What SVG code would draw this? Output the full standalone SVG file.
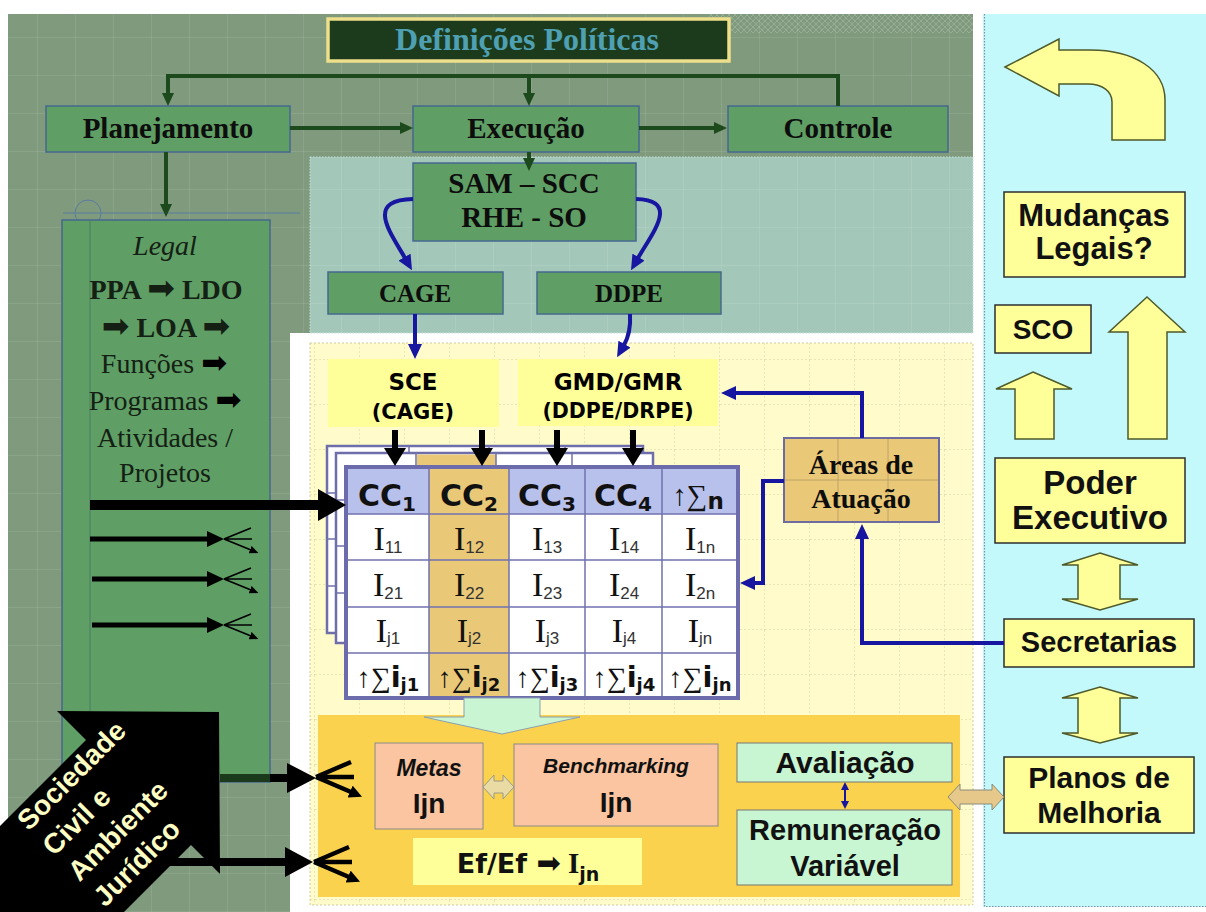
<svg xmlns="http://www.w3.org/2000/svg" width="1206" height="912" viewBox="0 0 1206 912">
<defs>
<style>
.serif{font-family:"Liberation Serif","Times New Roman",serif}
.sans{font-family:"Liberation Sans",Arial,sans-serif}
.dv{font-family:"DejaVu Sans",Verdana,sans-serif}
.arw{font-family:"DejaVu Sans",sans-serif;font-weight:normal}
.gbox{fill:#5f9e64;stroke:#46688f;stroke-width:1.5}
.ybox{fill:#ffff99;stroke:#2e2e2e;stroke-width:1.5}
.yarrow{fill:#ffff99;stroke:#4e5a2a;stroke-width:1.5}
.gl{fill:none;stroke:#1c4a1c;stroke-width:4}
.bl{fill:none;stroke:#1616a0;stroke-width:4}
.kl{fill:none;stroke:#000;stroke-width:6}
.ks{fill:none;stroke:#000;stroke-width:1.6}
.kb{fill:none;stroke:#000;stroke-width:4.5}
.cell{fill:none;stroke:#7272ae;stroke-width:1.5}
.gtxt{font-family:"Liberation Serif","Times New Roman",serif;font-weight:bold;fill:#0d0d0d;text-anchor:middle}
.rtxt{font-family:"Liberation Sans",Arial,sans-serif;font-weight:bold;fill:#111;text-anchor:middle}
.lg{font-family:"Liberation Serif","Times New Roman",serif;font-size:28px;fill:#142014;text-anchor:middle}
</style>
<pattern id="gridG" width="38" height="38" patternUnits="userSpaceOnUse">
<path d="M37.5,0V38M0,37.5H38" stroke="#ffffff" stroke-opacity="0.09" stroke-width="1" fill="none"/>
</pattern>
<pattern id="gridY" width="45" height="45" patternUnits="userSpaceOnUse">
<path d="M44.5,0V45M0,44.5H45" stroke="#c8c090" stroke-opacity="0.35" stroke-width="1" stroke-dasharray="2,2" fill="none"/>
</pattern>
<pattern id="hatch" width="6" height="6" patternUnits="userSpaceOnUse">
<path d="M0,0L6,6M6,0L0,6" stroke="#ffffff" stroke-opacity="0.18" stroke-width="1" fill="none"/>
</pattern>
<marker id="mG" markerUnits="userSpaceOnUse" markerWidth="13" markerHeight="12" refX="1" refY="6" orient="auto"><path d="M0,0L13,6L0,12Z" fill="#1c4a1c"/></marker>
<marker id="mB" markerUnits="userSpaceOnUse" markerWidth="15" markerHeight="14" refX="1" refY="7" orient="auto"><path d="M0,0L15,7L0,14Z" fill="#1616a0"/></marker>
<marker id="mK" markerUnits="userSpaceOnUse" markerWidth="18" markerHeight="22" refX="1" refY="11" orient="auto"><path d="M0,0L18,11L0,22Z" fill="#000"/></marker>
<marker id="mKs" markerUnits="userSpaceOnUse" markerWidth="9" markerHeight="8" refX="1" refY="4" orient="auto"><path d="M0,0L9,4L0,8Z" fill="#000"/></marker>
<marker id="mKb" markerUnits="userSpaceOnUse" markerWidth="13" markerHeight="13" refX="1" refY="6.5" orient="auto"><path d="M0,0L13,6.5L0,13Z" fill="#000"/></marker>
</defs>

<!-- page and background panels -->
<rect width="1206" height="912" fill="#ffffff"/>
<path d="M8,14H973V333H290V912H8Z" fill="#7f9a7d"/>
<path d="M8,14H973V333H290V912H8Z" fill="url(#gridG)"/>
<rect x="708" y="14" width="265" height="19" fill="url(#hatch)"/>
<rect x="310" y="157" width="663" height="176" fill="#a3c8b9" stroke="#c8e0d8" stroke-width="1" stroke-dasharray="1.5,1.5"/>
<rect x="310" y="157" width="663" height="176" fill="url(#gridG)"/>
<rect x="310" y="343" width="663" height="562" fill="#fffbca" stroke="#cfcaa0" stroke-width="1" stroke-dasharray="2,2"/>
<rect x="310" y="343" width="663" height="562" fill="url(#gridY)"/>
<rect x="983" y="14" width="223" height="893" fill="#c4f9fc"/>
<path d="M984.5,14V906.5H1206" fill="none" stroke="#7f8fa0" stroke-width="1.2" stroke-dasharray="1.5,1.5"/>
<rect x="318" y="715" width="642" height="182" fill="#fbd24e"/>

<!-- construction guides on the left panel -->
<g id="guides" fill="none" stroke="#5a7ca0" stroke-width="1">
<line x1="63" y1="213" x2="300" y2="213"/>
<circle cx="88" cy="213" r="13"/>
</g>

<!-- title -->
<g id="definicoes">
<rect x="328" y="19" width="401" height="42" fill="#1b3b1c" stroke="#eee08a" stroke-width="3.5"/>
<text x="527" y="50" class="serif" font-size="32" font-weight="bold" fill="#4ea0b2" text-anchor="middle">Definições Políticas</text>
</g>

<!-- planning / execution / control -->
<g id="planejamento"><rect x="46" y="106" width="244" height="46" class="gbox"/><text x="168" y="138" class="gtxt" font-size="29">Planejamento</text></g>
<g id="execucao"><rect x="413" y="106" width="226" height="46" class="gbox"/><text x="526" y="138" class="gtxt" font-size="29">Execução</text></g>
<g id="controle"><rect x="728" y="106" width="220" height="46" class="gbox"/><text x="838" y="138" class="gtxt" font-size="29">Controle</text></g>

<!-- legal chain -->
<g id="legal">
<rect x="62" y="220" width="208" height="562" class="gbox"/>
<line x1="90" y1="220" x2="90" y2="782" stroke="#4c7f66" stroke-width="1"/>
<text x="165" y="255" class="lg" font-style="italic" fill="#111">Legal</text>
<text x="166" y="299" class="lg" font-weight="bold" font-size="30" fill="#0d0d0d">PPA <tspan class="arw" font-size="33">➡</tspan> LDO</text>
<text x="166" y="337" class="lg" font-weight="bold" font-size="30" fill="#0d0d0d"><tspan class="arw" font-size="33">➡</tspan> LOA <tspan class="arw" font-size="33">➡</tspan></text>
<text x="164" y="373" class="lg">Funções <tspan class="arw" font-size="31" fill="#000">➡</tspan></text>
<text x="165" y="410" class="lg">Programas <tspan class="arw" font-size="31" fill="#000">➡</tspan></text>
<text x="165" y="447" class="lg">Atividades /</text>
<text x="165" y="482" class="lg">Projetos</text>
</g>

<!-- systems -->
<g id="sam-scc"><rect x="413" y="163" width="223" height="78" class="gbox"/>
<text x="524" y="193" class="gtxt" font-size="29">SAM – SCC</text>
<text x="524" y="227" class="gtxt" font-size="29">RHE - SO</text></g>
<g id="cage"><rect x="328" y="272" width="175" height="42" class="gbox"/><text x="415" y="302" class="gtxt" font-size="25">CAGE</text></g>
<g id="ddpe"><rect x="537" y="272" width="184" height="42" class="gbox"/><text x="629" y="302" class="gtxt" font-size="25">DDPE</text></g>

<g id="sce"><rect x="328" y="359" width="171" height="68" fill="#ffff99"/>
<text x="413" y="390" class="dv" font-weight="bold" font-size="23" text-anchor="middle">SCE</text>
<text x="413" y="419" class="dv" font-weight="bold" font-size="21" text-anchor="middle">(CAGE)</text></g>
<g id="gmd-gmr"><rect x="518" y="359" width="200" height="67" fill="#ffff99"/>
<text x="618" y="390" class="dv" font-weight="bold" font-size="23" text-anchor="middle">GMD/GMR</text>
<text x="618" y="418" class="dv" font-weight="bold" font-size="20.5" text-anchor="middle">(DDPE/DRPE)</text></g>

<!-- indicator matrix -->
<g id="matriz">
<rect x="327" y="446" width="316" height="187" fill="#ffffff" stroke="#6e6eaa" stroke-width="2.5"/>
<path d="M409,446V467M489,446V467M565,446V467M327,493H346M327,539H346M327,586H346" class="cell"/>
<rect x="336" y="453" width="317" height="190" fill="#ffffff" stroke="#6e6eaa" stroke-width="2.5"/>
<rect x="417" y="454.5" width="79" height="12.5" fill="#e9c878"/>
<path d="M416,453V467M496,453V467M572,453V467M336,500H346M336,546H346M336,593H346" class="cell"/>
<rect x="346" y="467" width="392" height="231" fill="#ffffff"/>
<rect x="346" y="467" width="392" height="47" fill="#b8c0ec"/>
<rect x="429" y="467" width="80" height="231" fill="#e9c878"/>
<path d="M429,467V698M509,467V698M585,467V698M662,467V698M346,514H738M346,560H738M346,607H738M346,653H738" class="cell"/>
<rect x="346" y="467" width="392" height="231" fill="none" stroke="#6c6cac" stroke-width="4"/>
<g class="dv" font-weight="bold" font-size="30" text-anchor="middle" fill="#111">
<text x="387" y="506">CC<tspan font-size="20" dy="5">1</tspan></text>
<text x="469" y="506">CC<tspan font-size="20" dy="5">2</tspan></text>
<text x="547" y="506">CC<tspan font-size="20" dy="5">3</tspan></text>
<text x="623" y="506">CC<tspan font-size="20" dy="5">4</tspan></text>
<text x="698" y="505"><tspan class="serif" font-weight="normal" font-size="29">↑∑</tspan><tspan font-size="23" dy="4">n</tspan></text>
</g>
<g text-anchor="middle" fill="#111">
<text x="388" y="550"><tspan class="serif" font-size="34">I</tspan><tspan class="sans" font-size="17" dy="3" fill="#333">11</tspan></text>
<text x="469" y="550"><tspan class="serif" font-size="34">I</tspan><tspan class="sans" font-size="17" dy="3" fill="#333">12</tspan></text>
<text x="547" y="550"><tspan class="serif" font-size="34">I</tspan><tspan class="sans" font-size="17" dy="3" fill="#333">13</tspan></text>
<text x="624" y="550"><tspan class="serif" font-size="34">I</tspan><tspan class="sans" font-size="17" dy="3" fill="#333">14</tspan></text>
<text x="700" y="550"><tspan class="serif" font-size="34">I</tspan><tspan class="sans" font-size="17" dy="3" fill="#333">1n</tspan></text>
<text x="388" y="596"><tspan class="serif" font-size="34">I</tspan><tspan class="sans" font-size="17" dy="3" fill="#333">21</tspan></text>
<text x="469" y="596"><tspan class="serif" font-size="34">I</tspan><tspan class="sans" font-size="17" dy="3" fill="#333">22</tspan></text>
<text x="547" y="596"><tspan class="serif" font-size="34">I</tspan><tspan class="sans" font-size="17" dy="3" fill="#333">23</tspan></text>
<text x="624" y="596"><tspan class="serif" font-size="34">I</tspan><tspan class="sans" font-size="17" dy="3" fill="#333">24</tspan></text>
<text x="700" y="596"><tspan class="serif" font-size="34">I</tspan><tspan class="sans" font-size="17" dy="3" fill="#333">2n</tspan></text>
<text x="388" y="642"><tspan class="serif" font-size="34">I</tspan><tspan class="sans" font-size="17" dy="2" fill="#333">j1</tspan></text>
<text x="469" y="642"><tspan class="serif" font-size="34">I</tspan><tspan class="sans" font-size="17" dy="2" fill="#333">j2</tspan></text>
<text x="547" y="642"><tspan class="serif" font-size="34">I</tspan><tspan class="sans" font-size="17" dy="2" fill="#333">j3</tspan></text>
<text x="624" y="642"><tspan class="serif" font-size="34">I</tspan><tspan class="sans" font-size="17" dy="2" fill="#333">j4</tspan></text>
<text x="700" y="642"><tspan class="serif" font-size="34">I</tspan><tspan class="sans" font-size="17" dy="2" fill="#333">jn</tspan></text>
</g>
<g text-anchor="middle" fill="#111">
<text x="388" y="687"><tspan class="serif" font-size="28">↑∑</tspan><tspan class="dv" font-weight="bold" font-size="29">i</tspan><tspan class="dv" font-weight="bold" font-size="18" dy="4">j1</tspan></text>
<text x="469" y="687"><tspan class="serif" font-size="28">↑∑</tspan><tspan class="dv" font-weight="bold" font-size="29">i</tspan><tspan class="dv" font-weight="bold" font-size="18" dy="4">j2</tspan></text>
<text x="547" y="687"><tspan class="serif" font-size="28">↑∑</tspan><tspan class="dv" font-weight="bold" font-size="29">i</tspan><tspan class="dv" font-weight="bold" font-size="18" dy="4">j3</tspan></text>
<text x="624" y="687"><tspan class="serif" font-size="28">↑∑</tspan><tspan class="dv" font-weight="bold" font-size="29">i</tspan><tspan class="dv" font-weight="bold" font-size="18" dy="4">j4</tspan></text>
<text x="700" y="687"><tspan class="serif" font-size="28">↑∑</tspan><tspan class="dv" font-weight="bold" font-size="29">i</tspan><tspan class="dv" font-weight="bold" font-size="18" dy="4">jn</tspan></text>
</g>
</g>

<g id="areas-atuacao">
<rect x="784" y="438" width="155" height="84" fill="#e9c878"/>
<path d="M838,438V522M888,438V522M784,480H939" stroke="#b49a62" stroke-width="0.8" fill="none"/>
<rect x="784" y="438" width="155" height="84" fill="none" stroke="#6c6ca0" stroke-width="2"/>
<text x="861" y="474" class="gtxt" font-size="28">Áreas de</text>
<text x="861" y="508" class="gtxt" font-size="28">Atuação</text>
</g>

<!-- results area -->
<g id="seta-resultado"><path d="M464,698H540V717H580L502,734L424,717H464Z" fill="#c9f5d2" stroke="#8ba0b2" stroke-width="1"/></g>
<g id="metas"><rect x="375" y="743" width="108" height="86" fill="#fac5a0" stroke="#8a8a8a" stroke-width="1"/>
<text x="429" y="776" class="sans" font-weight="bold" font-style="italic" font-size="23" text-anchor="middle" fill="#111">Metas</text>
<text x="429" y="813" class="sans" font-weight="bold" font-size="28" text-anchor="middle" fill="#111">Ijn</text></g>
<g id="benchmarking"><rect x="514" y="744" width="204" height="82" fill="#fac5a0" stroke="#8a8a8a" stroke-width="1"/>
<text x="616" y="773" class="sans" font-weight="bold" font-style="italic" font-size="21" text-anchor="middle" fill="#111">Benchmarking</text>
<text x="616" y="812" class="sans" font-weight="bold" font-size="28" text-anchor="middle" fill="#111">Ijn</text></g>
<g id="efef"><rect x="413" y="838" width="229" height="47" fill="#ffff99"/>
<text x="528" y="873" text-anchor="middle" fill="#111"><tspan class="dv" font-weight="bold" font-size="27">Ef/Ef </tspan><tspan class="arw" font-size="29">➡</tspan><tspan class="serif" font-weight="bold" font-size="29"> I</tspan><tspan class="dv" font-weight="bold" font-size="19" dy="8">jn</tspan></text></g>
<g id="avaliacao"><rect x="737" y="743" width="215" height="39" fill="#c8f6d3" stroke="#777" stroke-width="1"/>
<text x="845" y="773" class="rtxt" font-size="30">Avaliação</text></g>
<g id="remuneracao"><rect x="737" y="810" width="215" height="75" fill="#c8f6d3" stroke="#777" stroke-width="1"/>
<text x="845" y="840" class="rtxt" font-size="29">Remuneração</text>
<text x="845" y="876" class="rtxt" font-size="29">Variável</text></g>

<!-- right column -->
<g id="retorno"><path d="M1005,67L1059,39V50H1090C1135,50 1165,70 1165,100V140H1112V102C1112,91 1102,84 1088,84H1059V96Z" class="yarrow"/></g>
<g id="mudancas"><rect x="1004" y="192" width="181" height="85" class="ybox"/>
<text x="1094" y="226" class="rtxt" font-size="31">Mudanças</text>
<text x="1094" y="259" class="rtxt" font-size="31">Legais?</text></g>
<g id="sco"><rect x="995" y="305" width="96" height="48" class="ybox"/><text x="1043" y="339" class="rtxt" font-size="28">SCO</text></g>
<g id="seta-sco"><path d="M1033,372L1072,389H1054V439H1015V389H996Z" class="yarrow"/></g>
<g id="seta-mudancas"><path d="M1147,297L1185,332H1167V439H1128V332H1109Z" class="yarrow"/></g>
<g id="poder-executivo"><rect x="995" y="458" width="190" height="85" class="ybox"/>
<text x="1090" y="494" class="rtxt" font-size="33">Poder</text>
<text x="1090" y="529" class="rtxt" font-size="33">Executivo</text></g>
<g id="seta-poder-sec"><path d="M1100,553L1138,565H1120V599H1138L1100,610L1062,599H1078V565H1062Z" class="yarrow"/></g>
<g id="secretarias"><rect x="1004" y="619" width="190" height="48" class="ybox"/><text x="1099" y="652" class="rtxt" font-size="29">Secretarias</text></g>
<g id="seta-sec-planos"><path d="M1100,687L1138,698H1120V733H1138L1100,743L1062,733H1078V698H1062Z" class="yarrow"/></g>
<g id="planos-melhoria"><rect x="1004" y="757" width="190" height="76" class="ybox"/>
<text x="1099" y="788" class="rtxt" font-size="30">Planos de</text>
<text x="1099" y="823" class="rtxt" font-size="30">Melhoria</text></g>

<!-- connectors -->
<g id="conectores">
<path d="M838,106V76H168V94" class="gl" marker-end="url(#mG)"/>
<path d="M529,76V94" class="gl" marker-end="url(#mG)"/>
<path d="M290,128H401" class="gl" marker-end="url(#mG)"/>
<path d="M639,128H715" class="gl" marker-end="url(#mG)"/>
<path d="M529,152V159" class="gl" marker-end="url(#mG)"/>
<path d="M166,152V205" class="gl" marker-end="url(#mG)"/>

<path d="M413,199C365,200 390,232 405,258" class="bl" stroke-width="5" marker-end="url(#mB)"/>
<path d="M636,199C680,200 653,232 638,258" class="bl" stroke-width="5" marker-end="url(#mB)"/>
<path d="M415,314V345" class="bl" marker-end="url(#mB)"/>
<path d="M630,314C631,330 628,338 624,345" class="bl" marker-end="url(#mB)"/>
<path d="M862,438V393H735" class="bl" marker-end="url(#mB)"/>
<path d="M784,481H763V583H754" class="bl" marker-end="url(#mB)"/>
<path d="M1004,643H862V538" class="bl" marker-end="url(#mB)"/>

<path d="M395,430V449" class="kl" marker-end="url(#mK)"/>
<path d="M482,430V449" class="kl" marker-end="url(#mK)"/>
<path d="M557,430V449" class="kl" marker-end="url(#mK)"/>
<path d="M633,430V449" class="kl" marker-end="url(#mK)"/>

<rect x="90" y="500" width="230" height="10" fill="#000"/>
<path d="M318,489L346,505L318,521Z" fill="#000"/>

<rect x="90" y="536.5" width="120" height="5" fill="#000"/>
<path d="M207,531L224,539L207,547Z" fill="#000"/>
<path d="M224,539L251,528M224,539L252,539M224,539L251,550" class="ks" marker-end="url(#mKs)"/>
<rect x="92" y="576.5" width="118" height="5" fill="#000"/>
<path d="M207,571L224,579L207,587Z" fill="#000"/>
<path d="M224,579L251,568M224,579L252,579M224,579L251,590" class="ks" marker-end="url(#mKs)"/>
<rect x="92" y="622.5" width="118" height="5" fill="#000"/>
<path d="M207,617L224,625L207,633Z" fill="#000"/>
<path d="M224,625L251,614M224,625L252,625M224,625L251,636" class="ks" marker-end="url(#mKs)"/>

<rect x="220" y="774" width="50" height="8" fill="#1b3a1b"/>
<rect x="270" y="774" width="20" height="8" fill="#000"/>
<path d="M287,763L316,778L287,793Z" fill="#000"/>
<path d="M316,777L351,762M316,777L354,777M316,777L351,792" class="kb" marker-end="url(#mKb)"/>
<rect x="170" y="858" width="117" height="8" fill="#000"/>
<path d="M285,847L313,862L285,877Z" fill="#000"/>
<path d="M314,862L349,847M314,862L352,862M314,862L349,877" class="kb" marker-end="url(#mKb)"/>

<path d="M483,787L494,775V781H503V775L514,787L503,799V793H494V799Z" fill="#eadba5" stroke="#9a9a8a" stroke-width="1"/>
<path d="M948,797L960,784V790H992V784L1004,797L992,810V804H960V810Z" fill="#e6c98a" stroke="#8a8a7a" stroke-width="1"/>
<path d="M845,788V803" stroke="#1616a0" stroke-width="2"/>
<path d="M841,790L845,782L849,790ZM841,801L845,809L849,801Z" fill="#1616a0"/>
</g>

<!-- society / legal environment block arrow -->
<g id="sociedade">
<path d="M219,712L220,874L191,845L14,1022L-91,917L86,740L57,711Z" fill="#000"/>
<g transform="translate(64,867) rotate(-45)" class="sans" font-weight="bold" font-size="28" fill="#ffffc4">
<text x="0" y="-50">Sociedade</text>
<text x="0" y="-14">Civil e</text>
<text x="0" y="22">Ambiente</text>
<text x="0" y="58">Jurídico</text>
</g>
</g>
</svg>
